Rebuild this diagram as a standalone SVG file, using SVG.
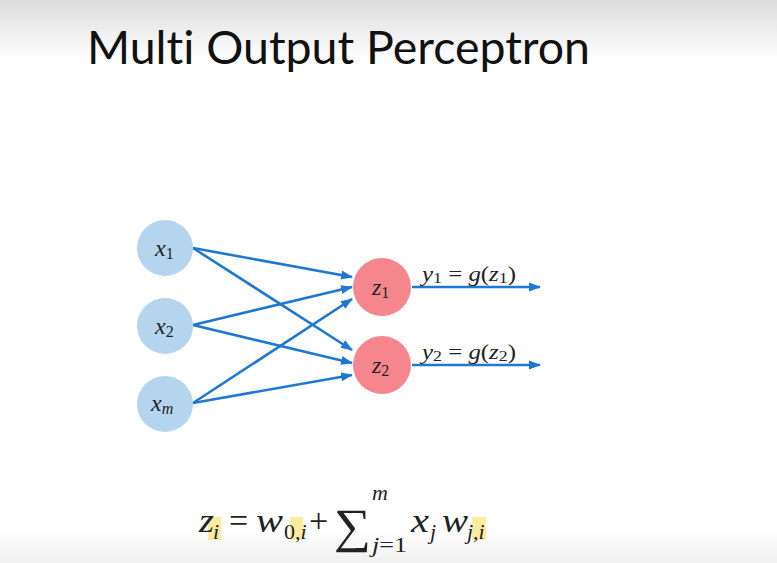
<svg xmlns="http://www.w3.org/2000/svg" width="777" height="563" viewBox="0 0 777 563">
<defs>
<linearGradient id="topg" x1="0" y1="0" x2="0" y2="1">
<stop offset="0" stop-color="#dcdcdc"/>
<stop offset="1" stop-color="#ffffff"/>
</linearGradient>
<linearGradient id="botg" x1="0" y1="0" x2="0" y2="1">
<stop offset="0" stop-color="#ffffff"/>
<stop offset="1" stop-color="#f0f0f0"/>
</linearGradient>
<marker id="ah" markerUnits="userSpaceOnUse" markerWidth="12" markerHeight="10" refX="11" refY="5" orient="auto">
<path d="M0,0.5 L12,5 L0,9.5 Z" fill="#1f78d0"/>
</marker>
<style>
.inp{fill:#b5d4ee}
.out{fill:#f5868d}
.edge{stroke:#1f78d0;stroke-width:2.6;fill:none;marker-end:url(#ah)}
.m{font-family:"Liberation Serif","DejaVu Serif",serif;font-style:italic;fill:#222}
.r{font-family:"Liberation Serif","DejaVu Serif",serif;font-style:normal;fill:#222}
.hl{fill:#fbec9e}
.title{font-family:Lato,"Open Sans",sans-serif;font-size:46px;fill:#111;font-variant-ligatures:none}
</style>
</defs>
<rect width="777" height="563" fill="#ffffff"/>
<rect width="777" height="60" fill="url(#topg)"/>
<rect y="530" width="777" height="33" fill="url(#botg)"/>
<text class="title" x="87" y="64" textLength="503" lengthAdjust="spacingAndGlyphs">Multi Output Perceptron</text>
<g id="connectors">
<line class="edge" x1="193" y1="248" x2="352" y2="277"/>
<line class="edge" x1="193" y1="248" x2="352" y2="350"/>
<line class="edge" x1="193" y1="325" x2="352" y2="287"/>
<line class="edge" x1="193" y1="325" x2="352" y2="363"/>
<line class="edge" x1="193" y1="403" x2="352" y2="299"/>
<line class="edge" x1="193" y1="403" x2="352" y2="375"/>
<line class="edge" x1="412" y1="287" x2="540" y2="287"/>
<line class="edge" x1="412" y1="365" x2="540" y2="365"/>
</g>
<g id="x1">
<circle class="inp" cx="165" cy="248" r="28"/>
<text class="m" x="155" y="256" font-size="24">x<tspan class="r" font-size="16" dy="3">1</tspan></text>
</g>
<g id="x2">
<circle class="inp" cx="165" cy="326" r="28"/>
<text class="m" x="155" y="334" font-size="24">x<tspan class="r" font-size="16" dy="3">2</tspan></text>
</g>
<g id="xm">
<circle class="inp" cx="165" cy="404" r="28"/>
<text class="m" x="151" y="411" font-size="24">x<tspan font-size="16" dy="3">m</tspan></text>
</g>
<g id="z1">
<circle class="out" cx="382" cy="287" r="29"/>
<text class="m" x="372" y="295" font-size="24">z<tspan class="r" font-size="16" dy="3">1</tspan></text>
</g>
<g id="z2">
<circle class="out" cx="382" cy="365" r="29"/>
<text class="m" x="372" y="373" font-size="24">z<tspan class="r" font-size="16" dy="3">2</tspan></text>
</g>
<g id="label-y1">
<text class="m" x="422" y="281" font-size="21" textLength="94" lengthAdjust="spacingAndGlyphs">y<tspan class="r" font-size="15" dy="2">1</tspan><tspan class="r" dy="-2"> = </tspan>g<tspan class="r">(</tspan>z<tspan class="r" font-size="15" dy="2">1</tspan><tspan class="r" dy="-2">)</tspan></text>
</g>
<g id="label-y2">
<text class="m" x="422" y="359" font-size="21" textLength="94" lengthAdjust="spacingAndGlyphs">y<tspan class="r" font-size="15" dy="2">2</tspan><tspan class="r" dy="-2"> = </tspan>g<tspan class="r">(</tspan>z<tspan class="r" font-size="15" dy="2">2</tspan><tspan class="r" dy="-2">)</tspan></text>
</g>
<g id="formula">
<rect class="hl" x="208" y="517" width="13" height="23"/>
<rect class="hl" x="290" y="517" width="13" height="23"/>
<rect class="hl" x="472" y="517" width="14" height="23"/>
<text class="m" x="199" y="532" font-size="34" textLength="15" lengthAdjust="spacingAndGlyphs">z</text>
<text class="m" x="213" y="539" font-size="22">i</text>
<text class="r" x="229" y="532" font-size="34">=</text>
<text class="m" x="256" y="532" font-size="34" textLength="27" lengthAdjust="spacingAndGlyphs">w</text>
<text class="r" x="284" y="539" font-size="22">0<tspan class="m">,i</tspan></text>
<text class="r" x="309" y="532" font-size="34">+</text>
<text class="r" x="334" y="542" font-size="48" font-family="DejaVu Sans" textLength="37" lengthAdjust="spacingAndGlyphs">∑</text>
<text class="m" x="372" y="500" font-size="22">m</text>
<text class="m" x="372" y="552" font-size="22" textLength="35" lengthAdjust="spacingAndGlyphs">j<tspan class="r">=1</tspan></text>
<text class="m" x="411" y="532" font-size="34" textLength="18" lengthAdjust="spacingAndGlyphs">x</text>
<text class="m" x="430" y="539" font-size="22">j</text>
<text class="m" x="442" y="532" font-size="34" textLength="26" lengthAdjust="spacingAndGlyphs">w</text>
<text class="m" x="467" y="539" font-size="22">j,i</text>
</g>
</svg>
